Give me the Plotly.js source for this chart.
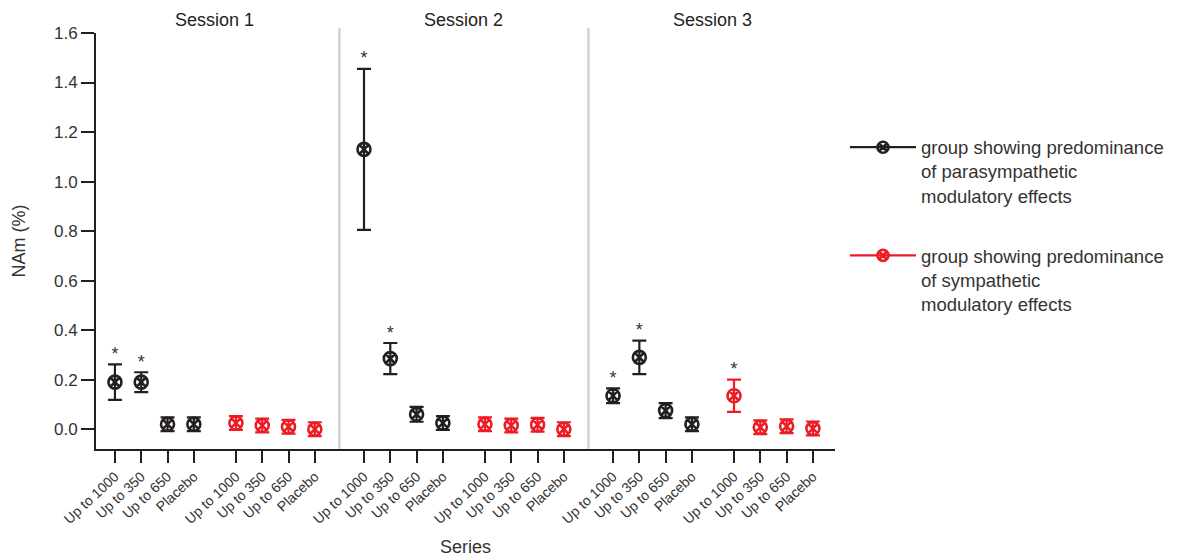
<!DOCTYPE html>
<html><head><meta charset="utf-8">
<script src="https://cdn.plot.ly/plotly-3.0.1.min.js"></script>
<style>html,body{margin:0;padding:0;background:#fff}#chart{width:1182px;height:557px}</style>
</head><body><div id="chart"></div>
<script>
// ---- data ----
const sessions = ['Session 1', 'Session 2', 'Session 3'];
const doses = ['Up to 1000', 'Up to 350', 'Up to 650', 'Placebo'];
const groupNames = ['group showing predominance<br>of parasympathetic<br>modulatory effects',
                    'group showing predominance<br>of sympathetic<br>modulatory effects'];
const yTicks = [0, 0.2, 0.4, 0.6, 0.8, 1.0, 1.2, 1.4, 1.6];
// parasympathetic group (black): mean and SE per session, per dose
const paraS1 = [0.19, 0.19, 0.02, 0.02];
const paraS2 = [1.13, 0.285, 0.06, 0.025];
const paraS3 = [0.135, 0.29, 0.075, 0.02];
const paraErrS1 = [0.072, 0.04, 0.028, 0.028];
const paraErrS2 = [0.325, 0.063, 0.03, 0.028];
const paraErrS3 = [0.03, 0.068, 0.03, 0.028];
// sympathetic group (red)
const sympS1 = [0.025, 0.015, 0.01, 0.0];
const sympS2 = [0.02, 0.015, 0.018, 0.0];
const sympS3 = [0.135, 0.008, 0.012, 0.003];
const sympErrS1 = [0.028, 0.028, 0.028, 0.028];
const sympErrS2 = [0.028, 0.028, 0.028, 0.028];
const sympErrS3 = [0.065, 0.028, 0.028, 0.028];
// significance markers (*)
const paraSig = [[1,1,0,0],[1,1,0,0],[1,1,0,0]];
const sympSig = [[0,0,0,0],[0,0,0,0],[1,0,0,0]];

// ---- layout helpers ----
const SESSION_STEP = 9.47, GROUP_STEP = 4.6;
const BLACK = '#231f20', RED = '#ed1c24';
const paraMeans = [paraS1, paraS2, paraS3], paraErrs = [paraErrS1, paraErrS2, paraErrS3];
const sympMeans = [sympS1, sympS2, sympS3], sympErrs = [sympErrS1, sympErrS2, sympErrS3];

function pos(s, g, i) { return s * SESSION_STEP + g * GROUP_STEP + i; }

const traces = [];
const tickvals = [], ticktext = [];
const groups = [[paraMeans, paraErrs, paraSig, BLACK], [sympMeans, sympErrs, sympSig, RED]];
const starX = [], starY = [];
groups.forEach(([means, errs, sig, color], g) => {
  const x = [], y = [], e = [];
  sessions.forEach((s, si) => {
    doses.forEach((d, di) => {
      const xp = pos(si, g, di);
      x.push(xp); y.push(means[si][di]); e.push(errs[si][di]);
      if (sig[si][di]) { starX.push(xp); starY.push(means[si][di] + errs[si][di]); }
    });
  });
  traces.push({
    type: 'scatter', mode: 'markers', x, y, showlegend: false, hoverinfo: 'skip',
    error_y: { type: 'data', array: e, visible: true, color, thickness: 2.2, width: 7 },
    marker: { symbol: 'circle-x-open', size: 13, color, line: { width: 2.6, color } }
  });
  traces.push({
    type: 'scatter', mode: 'lines+markers', x: [null], y: [null], name: groupNames[g],
    legendgroup: 'g' + g,
    line: { color, width: 2.2 },
    marker: { symbol: 'circle-x-open', size: 11, color, line: { width: 2.6, color } }
  });
});
sessions.forEach((s, si) => [0, 1].forEach(g => doses.forEach((d, di) => {
  tickvals.push(pos(si, g, di)); ticktext.push(d);
})));
traces.push({
  type: 'scatter', mode: 'text', x: starX, y: starY, text: starX.map(() => '*'),
  textposition: 'top center', textfont: { size: 18, color: '#333', family: 'Arial' },
  showlegend: false, hoverinfo: 'skip', cliponaxis: false
});

const shapes = [], annotations = [];
sessions.forEach((s, si) => {
  const c = pos(si, 0, 0) + (pos(si, 1, 3) - pos(si, 0, 0)) / 2;
  annotations.push({ x: c, y: 1, xref: 'x', yref: 'paper', yanchor: 'bottom', yshift: 1,
    text: s, showarrow: false, font: { size: 18, color: '#222', family: 'Arial' } });
  if (si > 0) {
    const xd = (pos(si - 1, 1, 3) + pos(si, 0, 0)) / 2;
    shapes.push({ type: 'line', xref: 'x', yref: 'paper', x0: xd, x1: xd, y0: 0, y1: 1.012,
      line: { color: '#d3d3d3', width: 2.5 }, layer: 'below' });
  }
});

const layout = {
  width: 1182, height: 557,
  margin: { l: 96, r: 347, t: 33, b: 108 },
  paper_bgcolor: '#fff', plot_bgcolor: '#fff',
  font: { family: 'Arial', color: '#333' },
  showlegend: true,
  legend: { x: 1.0135, y: 0.77, xanchor: 'left', yanchor: 'top', font: { size: 18.5, color: '#333' },
    valign: 'top', tracegroupgap: 33, itemwidth: 66, bgcolor: 'rgba(0,0,0,0)' },
  xaxis: {
    range: [-0.72, 27.38], showgrid: false, zeroline: false,
    showline: true, linecolor: BLACK, linewidth: 2,
    ticks: 'outside', ticklen: 12, tickwidth: 2, tickcolor: BLACK,
    tickmode: 'array', tickvals, ticktext, tickangle: -43,
    tickfont: { size: 14, color: '#333' },
    title: { text: 'Series', font: { size: 18, color: '#333' }, standoff: 17 }
  },
  yaxis: {
    range: [-0.08, 1.6], showgrid: false, zeroline: false,
    showline: true, linecolor: BLACK, linewidth: 2,
    ticks: 'outside', ticklen: 13, tickwidth: 2, tickcolor: BLACK,
    tickmode: 'array', tickvals: yTicks, tickformat: '.1f',
    tickfont: { size: 17, color: '#333' },
    title: { text: 'NAm (%)', font: { size: 18, color: '#333' }, standoff: 24 }
  },
  shapes, annotations
};
Plotly.newPlot('chart', traces, layout, { displayModeBar: false, staticPlot: true });
</script></body></html>
